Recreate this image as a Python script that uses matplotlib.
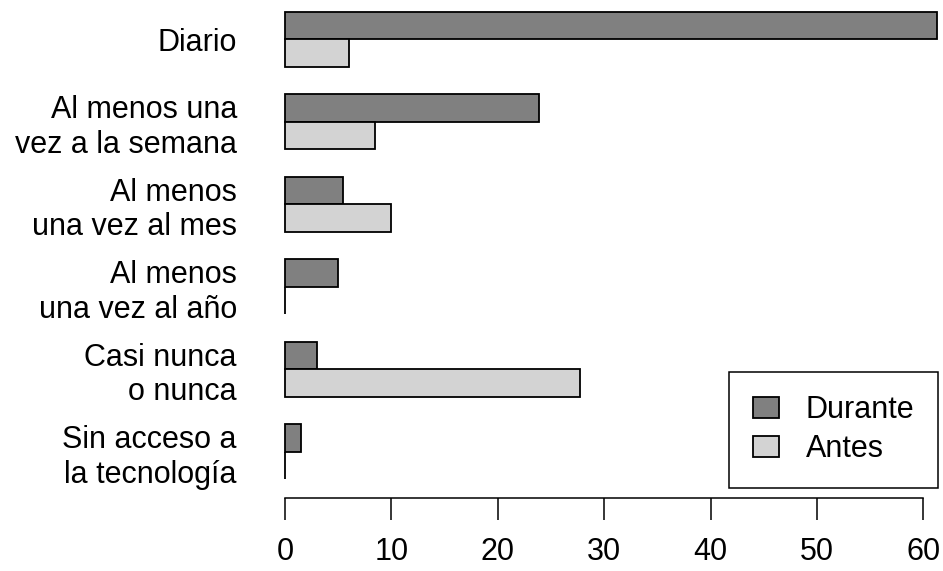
import matplotlib
matplotlib.use("Agg")
import matplotlib.pyplot as plt
import numpy as np

plt.rcParams['font.family'] = ['Liberation Sans', 'DejaVu Sans']

categories = ["Diario", "Al menos una\nvez a la semana", "Al menos\nuna vez al mes",
              "Al menos\nuna vez al año", "Casi nunca\no nunca", "Sin acceso a\nla tecnología"]
durante = [61.3, 23.9, 5.45, 4.95, 3.0, 1.5]
antes = [6.0, 8.5, 10.0, 0.0, 27.7, 0.0]
series_names = ["Durante", "Antes"]
xticks = [0, 10, 20, 30, 40, 50, 60]

FS = 22

W, H = 943, 571
fig = plt.figure(figsize=(W / 100, H / 100), dpi=100)

# axes placement in pixels
ax_left_px, ax_right_px = 259.5, 949.0
ax_top_px, ax_bot_px = -7.0, 497.9
ax = fig.add_axes([ax_left_px / W, (H - ax_bot_px) / H,
                   (ax_right_px - ax_left_px) / W, (ax_bot_px - ax_top_px) / H])

n = len(categories)
g = np.arange(n)
y_dur = 17.5 - 3 * g
y_ant = 16.5 - 3 * g
lw = 1.3
ax.barh(y_dur, durante, height=1.0, color="#808080", edgecolor="black", linewidth=lw,
        label=series_names[0])
ax.barh(y_ant, antes, height=1.0, color="#D3D3D3", edgecolor="black", linewidth=lw,
        label=series_names[1])

ax.set_xlim(-2.4, 62.4)
ax.set_ylim(0.32, 18.68)

ax.set_yticks(17 - 3 * g)
ax.set_yticklabels(categories, fontsize=FS, ha="right", linespacing=1.2)
ax.tick_params(axis="y", length=0, pad=16.2)

ax.set_xticks(xticks)
ax.set_xticklabels([str(t) for t in xticks], fontsize=FS)
ax.tick_params(axis="x", direction="out", length=15.8, width=1.1, pad=12.5, colors="black")

for s in ["top", "right", "left"]:
    ax.spines[s].set_visible(False)
ax.spines["bottom"].set_bounds(0, 60)
ax.spines["bottom"].set_linewidth(1.1)

leg = ax.legend(loc="lower right", bbox_to_anchor=(938 / W, (H - 488) / H),
                bbox_transform=fig.transFigure, fontsize=FS, frameon=True, fancybox=False,
                edgecolor="black", framealpha=1, borderaxespad=0, borderpad=0.77,
                handlelength=0.85, handleheight=0.69, handletextpad=0.88,
                labelspacing=0.3)
leg.get_frame().set_linewidth(1.1)

fig.savefig("out.png", dpi=100)
